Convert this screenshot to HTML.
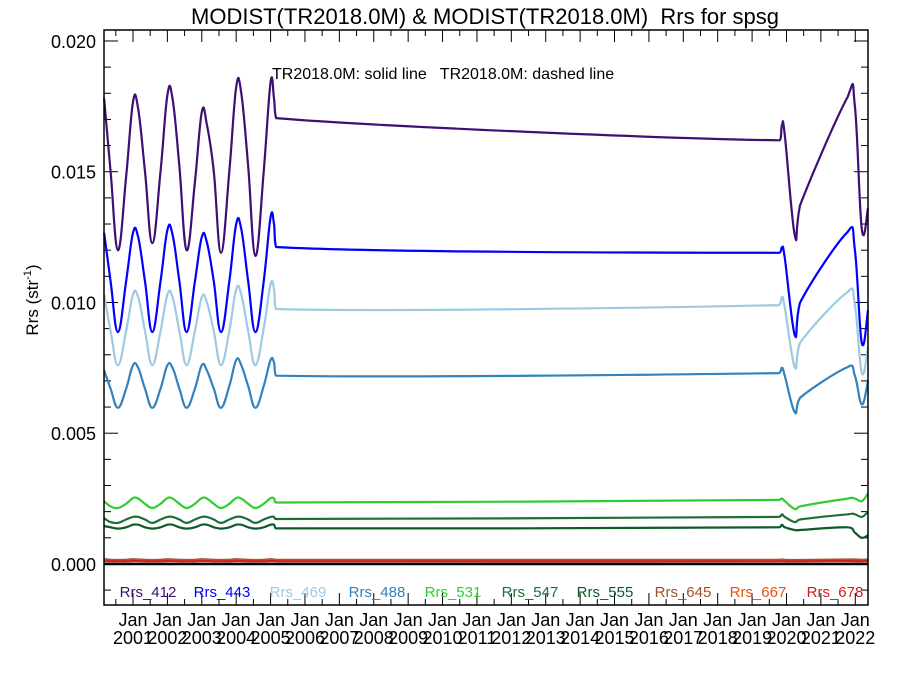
<!DOCTYPE html>
<html><head><meta charset="utf-8"><style>
body{margin:0;background:#fff}
svg{display:block;font-family:"Liberation Sans",sans-serif}
text{white-space:pre}
</style></head><body>
<svg id="chart" width="900" height="675">
<text x="485" y="24" font-size="22" text-anchor="middle">MODIST(TR2018.0M) &amp; MODIST(TR2018.0M)  Rrs for spsg</text>
<text x="272" y="79" font-size="16">TR2018.0M: solid line   TR2018.0M: dashed line</text>
<text transform="translate(38,300) rotate(-90)" font-size="17" text-anchor="middle">Rrs (str<tspan font-size="11" dy="-7">-1</tspan><tspan dy="7">)</tspan></text>
<g id="axes"></g><g id="series"></g><g id="legend"></g>
<rect x="104" y="30" width="764" height="575" fill="none" stroke="#000" stroke-width="1.5"/>
</svg>
<script>
const times=[2000.16,2000.35,2000.56,2000.8,2001.0,2001.15,2001.35,2001.56,2001.8,2002.0,2002.15,2002.35,2002.56,2002.8,2003.0,2003.15,2003.35,2003.56,2003.8,2004.0,2004.15,2004.35,2004.56,2004.8,2005.0,2005.1,2005.16,2019.78,2019.87,2019.95,2020.24,2020.39,2021.78,2021.99,2022.19,2022.37];
const rrs412=[.0178,.0150,.0120,.0148,.01767,.0174,.0150,.01227,.0150,.01793,.0178,.0152,.0120,.0146,.01728,.0168,.0150,.0119,.0150,.01824,.0180,.0152,.01178,.0150,.01843,.0178,.01705,.0162,.0168,.0164,.01258,.0137,.01786,.0175,.0128,.0136];
const rrs443=[.01266,.0108,.00887,.0108,.01266,.0125,.0108,.00887,.0108,.01277,.0126,.0108,.00887,.0108,.0125,.0123,.0108,.00887,.0108,.0130,.0128,.0108,.00887,.0108,.01327,.0130,.01212,.0119,.0121,.0117,.00876,.00998,.0127,.0120,.00845,.0097];
const rrs469=[.0103,.0089,.0076,.0089,.0103,.0102,.0089,.0076,.0089,.0103,.0102,.0089,.0076,.0089,.0102,.0100,.0089,.0076,.0089,.0105,.0103,.0089,.0076,.0090,.0107,.0105,.00975,.0099,.0102,.0098,.00753,.00845,.0104,.0099,.0073,.0083];
const rrs488=[.0074,.0067,.00597,.0067,.0076,.0075,.0067,.00597,.0067,.0076,.0075,.0067,.00597,.0067,.0076,.0074,.0067,.00597,.0068,.0078,.0076,.0068,.00597,.0068,.0078,.0077,.0072,.0073,.0075,.0072,.0058,.00635,.00753,.0072,.0061,.0070];
const rrs531=[.0024,.0022,.00214,.0023,.00252,.0025,.0023,.00214,.0023,.00252,.0025,.0023,.00214,.0023,.00252,.0025,.0023,.00214,.0023,.00252,.0025,.0023,.00214,.0023,.00252,.0025,.00235,.00245,.0025,.0024,.0021,.0022,.0025,.0025,.0024,.0027];
const rrs547=[.00175,.0016,.00157,.0017,.0018,.0018,.0017,.00157,.0017,.0018,.0018,.0017,.00157,.0017,.0018,.0018,.0017,.00157,.0017,.0018,.0018,.0017,.00157,.0017,.0018,.0018,.00172,.0018,.0019,.0018,.0016,.0017,.0019,.0019,.0018,.0020];
const rrs555=[.00145,.0014,.00135,.0014,.0015,.0015,.0014,.00135,.0014,.0015,.0015,.0014,.00135,.0014,.0015,.0015,.0014,.00135,.0014,.0015,.0015,.0014,.00135,.0014,.0015,.0015,.00136,.0014,.0015,.0014,.0013,.0013,.0014,.0012,.0010,.0011];
const rrs645=[.00018,.00016,.00015,.00016,.00018,.00017,.00016,.00015,.00016,.00018,.00017,.00016,.00015,.00016,.00018,.00017,.00016,.00015,.00016,.00018,.00017,.00016,.00015,.00016,.00018,.00017,.00016,.00016,.00017,.00016,.00015,.00015,.00017,.00017,.00016,.00017];
const rrs667=[.00013,.00012,.00012,.00012,.00013,.00013,.00012,.00012,.00012,.00013,.00013,.00012,.00012,.00012,.00013,.00013,.00012,.00012,.00012,.00013,.00013,.00012,.00012,.00012,.00013,.00013,.00012,.00012,.00013,.00012,.00011,.00011,.00012,.00012,.00012,.00013];
const rrs678=[.00011,.0001,.0001,.0001,.00011,.00011,.0001,.0001,.0001,.00011,.00011,.0001,.0001,.0001,.00011,.00011,.0001,.0001,.0001,.00011,.00011,.0001,.0001,.0001,.00011,.00011,.0001,.0001,.00011,.0001,.0001,.0001,.00011,.0001,.0001,.00011];
const seriesNames=["Rrs_412","Rrs_443","Rrs_469","Rrs_488","Rrs_531","Rrs_547","Rrs_555","Rrs_645","Rrs_667","Rrs_678"];
const yTickLabels=["0.000","0.005","0.010","0.015","0.020"];
const yTickValues=[0,0.005,0.010,0.015,0.020];
const years=[2001,2002,2003,2004,2005,2006,2007,2008,2009,2010,2011,2012,2013,2014,2015,2016,2017,2018,2019,2020,2021,2022];

const NS="http://www.w3.org/2000/svg";
const X0=104,X1=868,Y0=605,Y1=30,T0=2000.157,T1=2022.37,V0=-0.00157,V1=0.02042;
const xS=t=>X0+(t-T0)/(T1-T0)*(X1-X0);
const yS=v=>Y0-(v-V0)/(V1-V0)*(Y0-Y1);
function mk(tag,attrs,parent){const e=document.createElementNS(NS,tag);for(const k in attrs)e.setAttribute(k,attrs[k]);parent.appendChild(e);return e;}
const axes=document.getElementById('axes'),sg=document.getElementById('series'),lg=document.getElementById('legend');
for(let i=-1;i<=20;i++){const y=yS(i*0.001);const L=(i%5===0)?14:7;
 const a=mk('line',{x1:X0,x2:X0+L,y1:y,y2:y,stroke:'#000','stroke-width':1},axes);
 
 
 const b=mk('line',{x1:X1,x2:X1-L,y1:y,y2:y,stroke:'#000','stroke-width':1},axes);
 
 }
yTickValues.forEach((v,i)=>{const t=mk('text',{x:96,y:yS(v)+7,'font-size':18,'text-anchor':'end'},axes);t.textContent=yTickLabels[i];
 
 });
years.forEach(yr=>{const x=xS(yr);
 for(const yy of [Y0,Y1]){const d=yy===Y0?-1:1;const l=mk('line',{x1:x,x2:x,y1:yy,y2:yy+d*12,stroke:'#000'},axes);
 
 
 const xm=xS(yr-0.5);const m=mk('line',{x1:xm,x2:xm,y1:yy,y2:yy+d*6,stroke:'#000'},axes);
 
 }
 const t1=mk('text',{x:x,y:626,'font-size':18,'text-anchor':'middle'},axes);t1.textContent='Jan';
 
 
 const t2=mk('text',{x:x,y:644,'font-size':18,'text-anchor':'middle'},axes);t2.textContent=String(yr);
 
 });
const z=mk('line',{x1:X0,x2:X1,y1:yS(0),y2:yS(0),stroke:'#000','stroke-width':2.5},axes);


const colors=["#3f0f73","#0000ff","#9ecae1","#3182bd","#31cc31","#1e6e36","#0d5a2a","#a0522d","#e6550d","#cc1f1f"];
const data=[rrs412,rrs443,rrs469,rrs488,rrs531,rrs547,rrs555,rrs645,rrs667,rrs678];
const legX=[148,222,298,377,453,530,605,683,758,835];
function smooth(pts){let d='M'+pts[0][0].toFixed(1)+','+pts[0][1].toFixed(1);const k=0.2;
 for(let i=0;i<pts.length-1;i++){const p0=pts[Math.max(0,i-1)],p1=pts[i],p2=pts[i+1],p3=pts[Math.min(pts.length-1,i+2)];
  const c1x=p1[0]+(p2[0]-p0[0])*k,c1y=p1[1]+(p2[1]-p0[1])*k,c2x=p2[0]-(p3[0]-p1[0])*k,c2y=p2[1]-(p3[1]-p1[1])*k;
  const mx=(v)=>v.toFixed(1);
  d+='C'+mx(Math.min(Math.max(c1x,p1[0]),p2[0]))+','+mx(c1y)+' '+mx(Math.min(Math.max(c2x,p1[0]),p2[0]))+','+mx(c2y)+' '+mx(p2[0])+','+mx(p2[1]);}
 return d;}
data.forEach((arr,i)=>{const pts=arr.map((v,j)=>[xS(times[j]),yS(v)]);
 const p=mk('path',{d:smooth(pts),fill:'none',stroke:colors[i],'stroke-width':2.2,'stroke-linejoin':'round'},sg);
 
 
 const t=mk('text',{x:legX[i],y:597,'font-size':15,'text-anchor':'middle',fill:colors[i]},lg);t.textContent=seriesNames[i];
 
 });
</script>
</body></html>
